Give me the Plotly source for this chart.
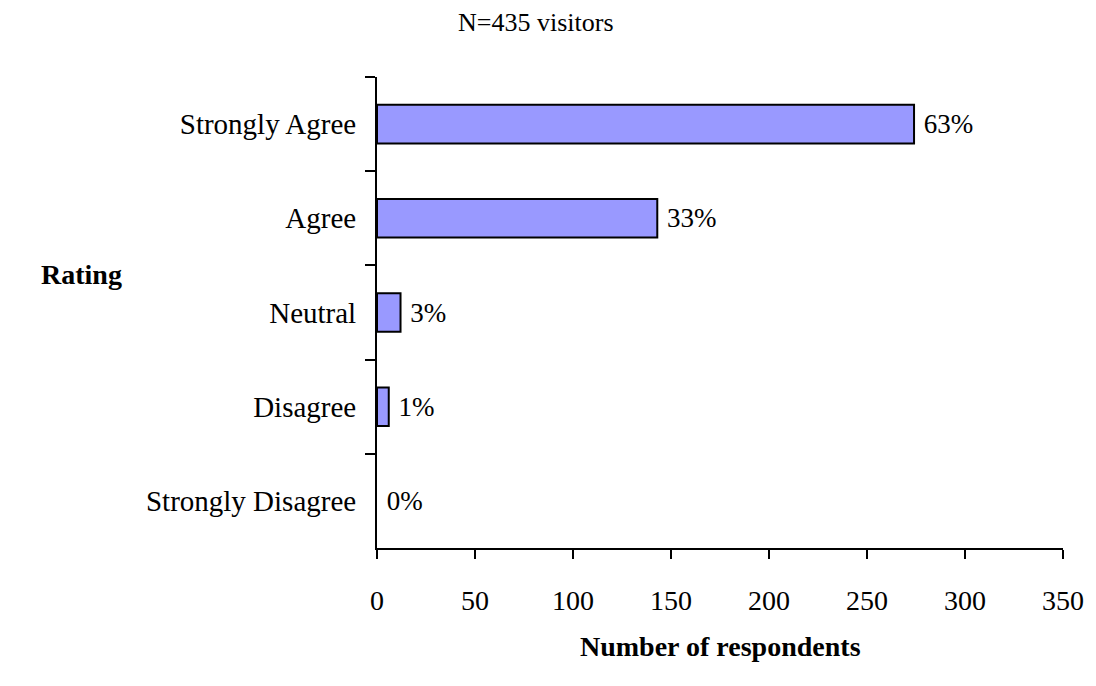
import plotly.graph_objects as go

categories = ["Strongly Agree", "Agree", "Neutral", "Disagree", "Strongly Disagree"]
counts = [274, 143, 12, 6, 0]
pct_labels = ["63%", "33%", "3%", "1%", "0%"]
x_ticks = [0, 50, 100, 150, 200, 250, 300, 350]

FONT = "Liberation Serif, Times New Roman, serif"

W, H = 1096, 686
L, R, T, B = 377, 29, 77, 138
pw, ph = W - L - R, H - T - B

fig = go.Figure(go.Bar(
    x=counts, y=categories, orientation="h",
    marker=dict(color="#9999FF",
                line=dict(color="black", width=[2 if c > 0 else 0 for c in counts])),
    text=[" " + t for t in pct_labels], textposition="outside", cliponaxis=False,
    textfont=dict(family=FONT, size=27, color="black"),
))

fig.update_layout(
    width=W, height=H,
    margin=dict(l=L, r=R, t=T, b=B),
    plot_bgcolor="white", paper_bgcolor="white",
    bargap=0.59,
    showlegend=False,
    font=dict(family=FONT, color="black"),
    title=dict(text="N=435 visitors", x=458 / W, xanchor="left",
               y=1 - 22 / H, yanchor="middle",
               font=dict(family=FONT, size=26, color="black")),
)
fig.update_xaxes(
    range=[0, 350], tickvals=x_ticks, ticks="outside", ticklen=9, tickwidth=2,
    tickcolor="black", showline=True, linecolor="black", linewidth=2,
    showgrid=False, zeroline=False, ticklabelstandoff=17,
    tickfont=dict(family=FONT, size=28, color="black"),
)
fig.update_yaxes(
    autorange="reversed", type="category", tickson="boundaries",
    ticks="outside", ticklen=10, tickwidth=2, tickcolor="black",
    showline=True, linecolor="black", linewidth=2, showgrid=False,
    ticklabelstandoff=13,
    tickfont=dict(family=FONT, size=29, color="black"),
)
fig.add_annotation(text="<b>Rating</b>", xref="paper", yref="paper",
                   x=(80 - L) / pw, y=(H - B - 274) / ph, showarrow=False,
                   xanchor="center", yanchor="middle",
                   font=dict(family=FONT, size=28, color="black"))
fig.add_annotation(text="<b>Number of respondents</b>", xref="paper", yref="paper",
                   x=(722 - L) / pw, y=(H - B - 646) / ph, showarrow=False,
                   xanchor="center", yanchor="middle",
                   font=dict(family=FONT, size=28, color="black"))

fig.write_html("out.html")
